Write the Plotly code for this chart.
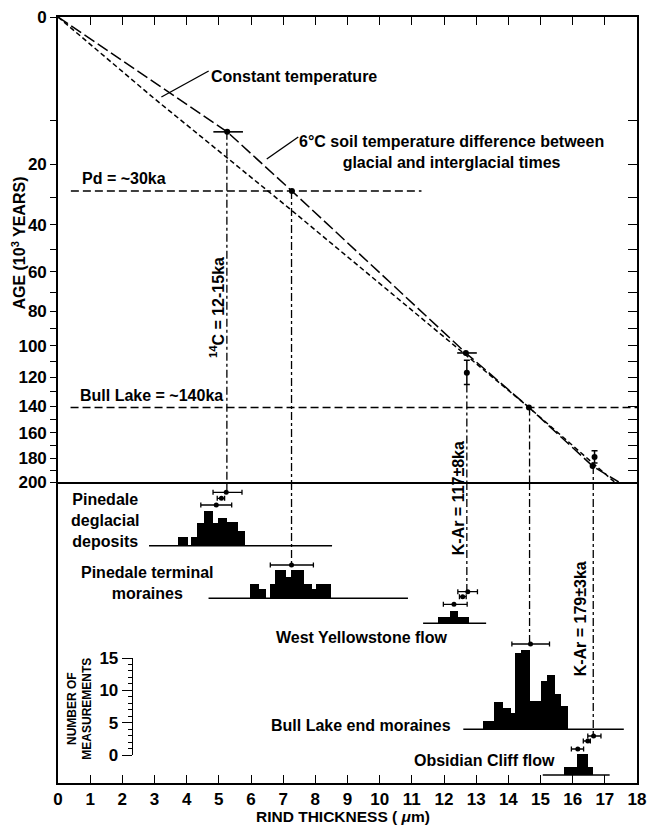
import numpy as np
import plotly.graph_objects as go

# ------------------------------------------------------------------ data
# Age axis (ka), plotted on a square-root scale
age_major = list(range(0, 201, 20))
age_minor = list(range(10, 200, 20))
age_labels = [str(a) for a in age_major]
rind_ticks = list(range(0, 19))

# Calibration curves: rind thickness (um) vs age (ka)
warm_rind = [0, 5.26, 7.27, 12.68, 14.64, 16.62, 17.43]      # 6 C soil temperature difference
warm_age = [0, 12.2, 28.0, 104.4, 141.0, 186.5, 200.0]
const_rind = [0, 2.98, 7.17, 14.64, 17.30]                    # constant temperature
const_age = [0, 6.1, 33.7, 141.0, 200.0]

# Calibration points on the curve
cal_rind = [5.26, 7.27, 12.68, 14.64, 16.62]
cal_age = [12.2, 28.0, 104.4, 141.0, 186.5]
# horizontal rind ranges of the 14C and West Yellowstone points
hbar_rind = [5.26, 12.68]
hbar_age = [12.2, 104.4]
hbar_lo = [4.83, 12.41]
hbar_hi = [5.75, 13.02]
# K-Ar dated points with age uncertainty
kar_rind = [12.71, 16.68]
kar_age = [117.0, 179.0]
kar_err = [8.0, 5.0]

# Reference ages (horizontal dashed lines)
pd_age, pd_rind_span = 28.0, [0.4, 11.3]
bl_age, bl_rind_span = 141.0, [0.39, 18.0]

# Drop lines from curve to histograms
drop_rind = [5.25, 7.26, 12.71, 14.66, 16.64]
drop_age = [12.2, 28.0, 125.0, 141.0, 186.5]

# Histograms: bin edges (um) and number of measurements
deg_edges = [3.74, 4.03, 4.13, 4.33, 4.54, 4.83, 4.98, 5.25, 5.61, 5.81]
deg_counts = [1.3, 0, 1.3, 3.5, 5.3, 3.5, 4.3, 3.6, 2.3]
ter_edges = [5.98, 6.26, 6.46, 6.59, 6.76, 7.10, 7.25, 7.65, 7.89, 8.02, 8.50]
ter_counts = [2.2, 1.5, 0, 2.2, 4.4, 3.35, 4.4, 2.2, 1.5, 2.2]
wy_edges = [11.82, 12.18, 12.43, 12.79]
wy_counts = [0.93, 1.96, 0.93]
bl_edges = [13.20, 13.56, 13.82, 14.07, 14.22, 14.40, 14.68, 15.01, 15.21, 15.45, 15.65, 15.85]
bl_counts = [1.28, 4.22, 3.35, 2.58, 11.75, 12.2, 4.33, 7.42, 8.35, 5.5, 3.55]
ob_edges = [15.72, 16.15, 16.47, 16.62]
ob_counts = [1.2, 3.2, 1.2]

# Histogram statistics (centre, low, high) in um
deg_stats = [(5.23, 4.82, 5.72), (5.08, 4.95, 5.18), (4.92, 4.44, 5.40)]
ter_stats = [(7.26, 6.60, 7.94)]
wy_stats = [(12.74, 12.43, 13.04), (12.58, 12.48, 12.69), (12.31, 11.98, 12.72)]
bl_stats = [(14.69, 14.11, 15.28)]
ob_stats = [(16.65, 16.47, 16.88), (16.47, 16.33, 16.55), (16.16, 15.96, 16.34)]

# ------------------------------------------------------------------ layout geometry
W, H = 652, 827
L, R, T, B = 58, 646, 17, 783
PX_PER_COUNT = 6.47


def PX(px):
    return (px - L) / (R - L)


def PY(py):
    return (B - py) / (B - T)


SPLIT = PY(482)
COUNT_TOP = (B - 482) / PX_PER_COUNT


def cnt(py):
    return (B - py) / PX_PER_COUNT


# histogram rows: (edges, counts, baseline pixel, baseline span um, stats, stat pixel rows)
hists = [
    (deg_edges, deg_counts, 545.7, [2.83, 8.52], deg_stats, [492.3, 498.3, 505.0]),
    (ter_edges, ter_counts, 598.3, [4.68, 10.88], ter_stats, [565.0]),
    (wy_edges, wy_counts, 623.3, [11.35, 13.31], wy_stats, [591.7, 596.7, 604.3]),
    (bl_edges, bl_counts, 729.3, [12.60, 17.59], bl_stats, [644.0]),
    (ob_edges, ob_counts, 775.0, [15.07, 17.15], ob_stats, [736.0, 741.0, 749.0]),
]
drop_end_px = [492.3, 565.0, 591.7, 644.0, 736.0]

BLACK = "black"
FONT = "Liberation Sans, Arial, Helvetica, sans-serif"
DROP_DASH = "8px,3px,3px,3px"
sq = np.sqrt

fig = go.Figure()


def ghost(xa, ya):
    fig.add_trace(go.Scatter(x=[0], y=[0], mode="markers", marker=dict(opacity=0),
                             xaxis=xa, yaxis=ya, showlegend=False, hoverinfo="skip"))


# ---------------- top panel (age, sqrt scale)
top = dict(xaxis="x2", yaxis="y", showlegend=False, hoverinfo="skip")
fig.add_trace(go.Scatter(x=warm_rind, y=sq(warm_age), mode="lines",
                         line=dict(color=BLACK, width=1.5, dash="12px,4px"), **top))
fig.add_trace(go.Scatter(x=const_rind, y=sq(const_age), mode="lines",
                         line=dict(color=BLACK, width=1.5, dash="5px,3px"), **top))
fig.add_trace(go.Scatter(x=pd_rind_span, y=sq([pd_age, pd_age]), mode="lines",
                         line=dict(color=BLACK, width=1.5, dash="8px,4px"), **top))
fig.add_trace(go.Scatter(x=bl_rind_span, y=sq([bl_age, bl_age]), mode="lines",
                         line=dict(color=BLACK, width=1.5, dash="8px,4px"), **top))
for r, a in zip(drop_rind, drop_age):
    fig.add_trace(go.Scatter(x=[r, r], y=sq([a, 200]), mode="lines",
                             line=dict(color=BLACK, width=1.3, dash=DROP_DASH), **top))
fig.add_trace(go.Scatter(x=hbar_rind, y=sq(hbar_age), mode="lines",
                         error_x=dict(type="data", symmetric=False,
                                      array=np.array(hbar_hi) - np.array(hbar_rind),
                                      arrayminus=np.array(hbar_rind) - np.array(hbar_lo),
                                      color=BLACK, thickness=1.6, width=0),
                         line=dict(width=0), **top))
fig.add_trace(go.Scatter(x=cal_rind, y=sq(cal_age), mode="markers",
                         marker=dict(color=BLACK, size=6), **top))
ka = np.array(kar_age)
ke = np.array(kar_err)
fig.add_trace(go.Scatter(x=kar_rind, y=sq(ka), mode="markers",
                         marker=dict(color=BLACK, size=6),
                         error_y=dict(type="data", symmetric=False,
                                      array=sq(ka + ke) - sq(ka),
                                      arrayminus=sq(ka) - sq(ka - ke),
                                      color=BLACK, thickness=1.5, width=3), **top))
ghost("x2", "y3")

# ---------------- bottom panel (histograms)
bot = dict(xaxis="x", yaxis="y2", showlegend=False, hoverinfo="skip")
for r, pe in zip(drop_rind, drop_end_px):
    fig.add_trace(go.Scatter(x=[r, r], y=[COUNT_TOP, cnt(pe)], mode="lines",
                             line=dict(color=BLACK, width=1.3, dash=DROP_DASH), **bot))
for edges, counts, base_px, span, stats, stat_rows in hists:
    e = np.array(edges)
    base = cnt(base_px)
    fig.add_trace(go.Bar(x=(e[:-1] + e[1:]) / 2, y=counts, width=np.diff(e), base=base,
                         marker=dict(color=BLACK, line=dict(width=0)), **bot))
    fig.add_trace(go.Scatter(x=span, y=[base, base], mode="lines",
                             line=dict(color=BLACK, width=1.6), **bot))
    c = np.array([s[0] for s in stats])
    lo = np.array([s[1] for s in stats])
    hi = np.array([s[2] for s in stats])
    fig.add_trace(go.Scatter(x=c, y=[cnt(p) for p in stat_rows], mode="markers",
                             marker=dict(color=BLACK, size=5),
                             error_x=dict(type="data", symmetric=False, array=hi - c,
                                          arrayminus=c - lo, color=BLACK,
                                          thickness=1.3, width=2.5), **bot))
ghost("x", "y4")

# ---------------- axes
tickfont = dict(family=FONT, size=17, color=BLACK, weight="bold")
common = dict(showgrid=False, zeroline=False, linecolor=BLACK, linewidth=1.6,
              tickcolor=BLACK, tickwidth=1.4)
fig.update_layout(
    width=W, height=H,
    margin=dict(l=L, r=W - R, t=T, b=H - B),
    paper_bgcolor="white", plot_bgcolor="rgba(0,0,0,0)",
    barmode="overlay", bargap=0,
    font=dict(family=FONT, color=BLACK),
    # bottom axis with labels, ticks pointing into the plot
    xaxis=dict(domain=[0, 1], anchor="y2", range=[0, 18], tickmode="array",
               tickvals=rind_ticks, ticks="inside", ticklen=8, showline=True,
               tickfont=tickfont, ticklabeloverflow="allow", **common),
    # top edge of the upper panel (ticks inside) plus the 200 ka line
    xaxis2=dict(domain=[0, 1], anchor="y", range=[0, 18], side="top", ticks="inside",
                ticklen=8, tickvals=rind_ticks, tickmode="array",
                showticklabels=False, showline=True, mirror=True, **common),
    yaxis=dict(domain=[SPLIT, 1], anchor="x2", range=[sq(200), 0], tickmode="array",
               tickvals=sq(age_major), ticktext=age_labels, ticks="outside",
               ticklen=6, showline=True, tickfont=tickfont,
               minor=dict(tickmode="array", tickvals=sq(age_minor), ticks="outside",
                          ticklen=6, tickcolor=BLACK, tickwidth=1.4, showgrid=False),
               **common),
    yaxis3=dict(overlaying="y", anchor="x2", side="right", range=[sq(200), 0],
                tickmode="array", tickvals=sq(age_major), ticks="inside", ticklen=9,
                showticklabels=False, showline=True,
                minor=dict(tickmode="array", tickvals=sq(age_minor), ticks="inside",
                           ticklen=9, tickcolor=BLACK, tickwidth=1.4, showgrid=False),
                **common),
    yaxis2=dict(domain=[0, SPLIT], anchor="x", range=[0, COUNT_TOP], showline=True,
                mirror=True, ticks="", showticklabels=False, **common),
    yaxis4=dict(domain=[PY(755), PY(658)], anchor="free", position=PX(133),
                range=[0, 15], tickmode="linear", tick0=0, dtick=5, ticks="outside",
                ticklen=10, showline=True, tickfont=tickfont,
                minor=dict(dtick=1, ticklen=4, ticks="outside", tickcolor=BLACK),
                showgrid=False, zeroline=False, linecolor=BLACK, linewidth=1.3,
                tickcolor=BLACK, tickwidth=1.3),
)

# ---------------- text
def note(text, px, py, size=16, angle=0, xanchor="center", align="center"):
    fig.add_annotation(text=text, x=PX(px), y=PY(py), xref="paper", yref="paper",
                       showarrow=False, textangle=angle, xanchor=xanchor,
                       yanchor="middle", align=align,
                       font=dict(family=FONT, size=size, color=BLACK, weight="bold"))


note("AGE (10<sup>3</sup> YEARS)", 18, 243, angle=-90)
note("RIND THICKNESS ( <i>μ</i>m)", 347, 817, size=15.5)
note("Pd = ~30ka", 80, 178, xanchor="left")
note("Bull Lake = ~140ka", 78, 395, xanchor="left")
note("Constant temperature", 211, 76, xanchor="left")
note("6°C soil temperature difference between<br>glacial and interglacial times", 458, 151.5)
note("<sup>14</sup>C = 12-15ka", 219, 307.5, angle=-90)
note("K-Ar = 117±8ka", 465, 498.5, angle=-90)
note("K-Ar = 179±3ka", 589, 618.5, angle=-90)
note("Pinedale<br>deglacial<br>deposits", 106, 520.5)
note("Pinedale terminal<br>moraines", 148.5, 583)
note("West Yellowstone flow", 367, 637)
note("Bull Lake end moraines", 366, 725)
note("Obsidian Cliff flow", 491, 760)
note("NUMBER OF<br>MEASUREMENTS", 80, 709, size=12, angle=-90)

# leader lines
for (x0, y0, x1, y1) in [(211, 71, 163, 97), (302, 137, 270, 159)]:
    fig.add_shape(type="line", xref="paper", yref="paper", x0=PX(x0), y0=PY(y0),
                  x1=PX(x1), y1=PY(y1), line=dict(color=BLACK, width=1.4))

fig.write_html("out.html",
               config={"displayModeBar": False},
               post_script="document.body.style.margin='0px';"
                           "document.body.style.overflow='hidden';")
